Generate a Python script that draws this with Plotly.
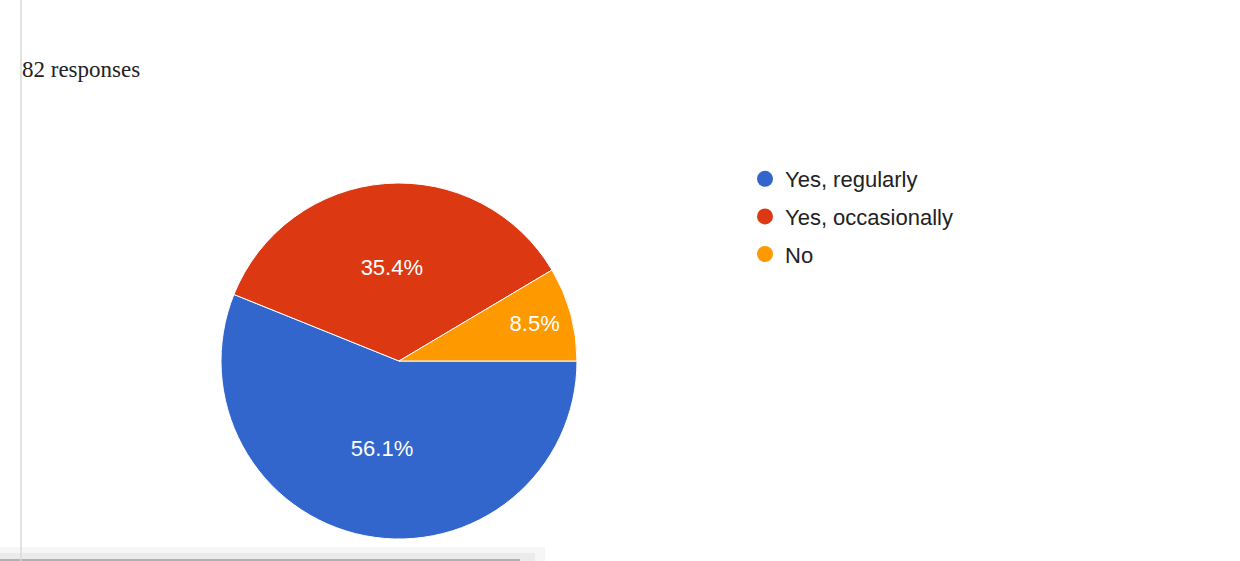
import plotly.graph_objects as go

# Data
categories = ["Yes, regularly", "Yes, occasionally", "No"]
counts = [46, 29, 7]
colors = ["#3366CC", "#DC3912", "#FF9900"]
total_label = "82 responses"

W, H = 1240, 561

fig = go.Figure()

# pie centre ~ (399, 361) px, radius ~ 178 px
cx, cy, r = 399, 361, 178
fig.add_trace(go.Pie(
    labels=categories,
    values=counts,
    sort=False,
    direction="clockwise",
    rotation=90,
    marker=dict(colors=colors, line=dict(color="white", width=1)),
    textinfo="percent",
    texttemplate="%{percent:.1%}",
    textposition="inside",
    insidetextorientation="horizontal",
    textfont=dict(family="Arial, Liberation Sans", size=22, color="white"),
    showlegend=False,
    hoverinfo="label+percent",
    domain=dict(x=[(cx - r) / W, (cx + r) / W],
                y=[(H - cy - r) / H, (H - cy + r) / H]),
))

# legend entries with circular symbols
for name, col in zip(categories, colors):
    fig.add_trace(go.Scatter(
        x=[None], y=[None], mode="markers", name=name,
        legendgroup=name,
        marker=dict(symbol="circle", size=16, color=col),
        hoverinfo="skip",
    ))

fig.update_layout(
    width=W, height=H,
    margin=dict(l=0, r=0, t=0, b=0),
    paper_bgcolor="white",
    plot_bgcolor="white",
    xaxis=dict(visible=False),
    yaxis=dict(visible=False),
    legend=dict(
        x=745 / W, y=1 - 158 / H, xanchor="left", yanchor="top",
        font=dict(family="Arial, Liberation Sans", size=22, color="#222222"),
        tracegroupgap=6,
        bgcolor="rgba(0,0,0,0)",
        itemclick=False, itemdoubleclick=False,
    ),
    annotations=[dict(
        text=total_label, x=20 / W, y=1 - 70 / H, xref="paper", yref="paper",
        xanchor="left", yanchor="middle", showarrow=False,
        font=dict(family="Liberation Serif, Times New Roman, serif", size=23, color="#222222"),
    )],
    shapes=[
        # left thin grey rule
        dict(type="line", xref="paper", yref="paper", x0=21 / W, x1=21 / W, y0=0, y1=1,
             line=dict(color="#d8d8d8", width=1.5)),
        # bottom shadow bands
        dict(type="rect", xref="paper", yref="paper", x0=0, x1=545 / W, y0=0, y1=14 / H,
             fillcolor="#f6f6f6", line=dict(width=0), layer="below"),
        dict(type="rect", xref="paper", yref="paper", x0=0, x1=535 / W, y0=0, y1=8 / H,
             fillcolor="#ebebeb", line=dict(width=0), layer="below"),
        dict(type="rect", xref="paper", yref="paper", x0=0, x1=520 / W, y0=0, y1=2 / H,
             fillcolor="#b0b0b0", line=dict(width=0), layer="below"),
    ],
)

fig.write_html("out.html")
